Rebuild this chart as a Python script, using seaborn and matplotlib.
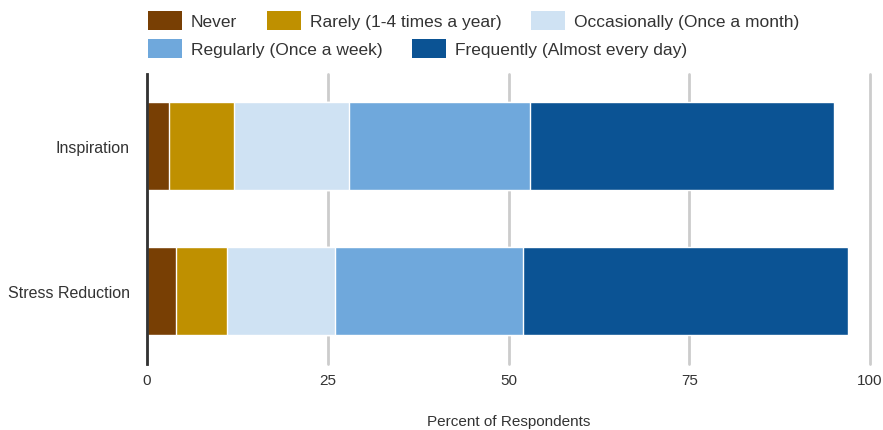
import matplotlib
matplotlib.use("Agg")
import matplotlib.pyplot as plt
import matplotlib.patches as mpatches
import numpy as np
import pandas as pd
import seaborn as sns

# Survey data
categories = ["Inspiration", "Stress Reduction"]
levels = [
    "Never",
    "Rarely (1-4 times a year)",
    "Occasionally (Once a month)",
    "Regularly (Once a week)",
    "Frequently (Almost every day)",
]
never = [3, 4]
rarely = [9, 7]
occasionally = [16, 15]
regularly = [25, 26]
frequently = [42, 45]
x_ticks = [0, 25, 50, 75, 100]

colors = ["#783f04", "#bf9000", "#cfe2f3", "#6fa8dc", "#0b5394"]

sns.set_theme(style="white")
plt.rcParams["font.family"] = ["Liberation Sans", "DejaVu Sans"]

text_color = "#333333"

series = [never, rarely, occasionally, regularly, frequently]
cum = np.cumsum(np.array(series), axis=0)

fig = plt.figure(figsize=(8.83, 4.31), dpi=100)
ax = fig.add_axes([147 / 883, 1 - 364.5 / 431, (870 - 147) / 883, 290 / 431])

# stacked bars: draw cumulative totals from the outermost segment inward
for i in range(len(levels) - 1, -1, -1):
    df = pd.DataFrame({"category": categories, "value": cum[i]})
    sns.barplot(data=df, x="value", y="category", orient="h", color=colors[i],
                width=0.61, saturation=1, edgecolor="white", linewidth=1,
                ax=ax)

ax.set_xlim(0, 100)
ax.set_ylim(1.5, -0.5)
ax.set_xticks(x_ticks)
ax.set_xticklabels([str(t) for t in x_ticks])
ax.xaxis.grid(True, color="#cccccc", linewidth=2)
for gl in ax.get_xgridlines():
    gl.set_clip_on(False)
ax.set_axisbelow(True)
for s in ["top", "right", "bottom"]:
    ax.spines[s].set_visible(False)
ax.spines["left"].set_color(text_color)
ax.spines["left"].set_linewidth(2)
ax.spines["left"].set_zorder(5)
ax.tick_params(axis="both", length=0, colors=text_color)
ax.tick_params(axis="x", labelsize=11, pad=7)
ax.tick_params(axis="y", labelsize=11.5, pad=12.5)
ax.set_ylabel("")
ax.set_xlabel("Percent of Respondents", fontsize=11, color=text_color,
              labelpad=19)

# legend in two rows
handles = [mpatches.Patch(facecolor=c, edgecolor="none") for c in colors]
leg_kw = dict(frameon=False, fontsize=12.5, handlelength=1.97,
              handleheight=1.3, handletextpad=0.5, columnspacing=1.7,
              borderpad=0, borderaxespad=0, loc="upper left",
              labelcolor=text_color)
leg1 = fig.legend(handles[:3], levels[:3], ncol=3,
                  bbox_to_anchor=(148 / 883, 1 - 12 / 431), **leg_kw)
leg2 = fig.legend(handles[3:], levels[3:], ncol=2,
                  bbox_to_anchor=(148 / 883, 1 - 40 / 431), **leg_kw)

fig.savefig("out.png", dpi=100)
